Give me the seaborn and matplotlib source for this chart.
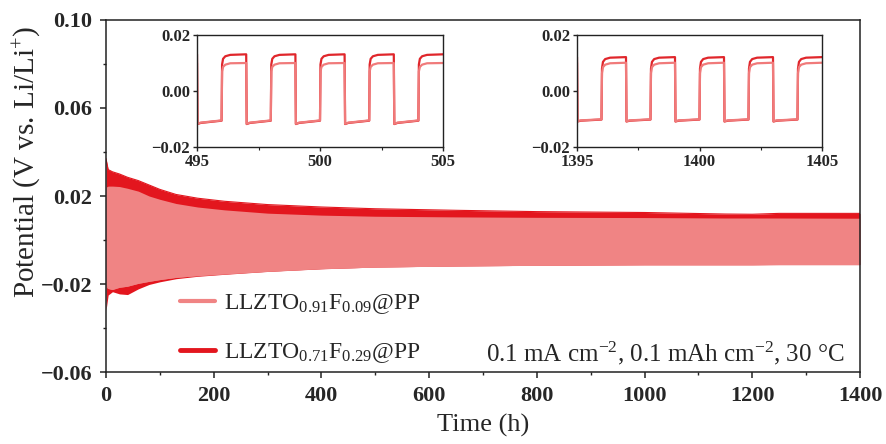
import numpy as np
import pandas as pd
import matplotlib
matplotlib.use("Agg")
import matplotlib.pyplot as plt
import seaborn as sns
from matplotlib.lines import Line2D
from matplotlib.ticker import MultipleLocator, FixedLocator

# ---------------------------------------------------------------------------
# Long-term galvanostatic cycling: upper / lower potential envelope (V)
# ---------------------------------------------------------------------------
time_h = [0, 4, 12, 25, 40, 60, 80, 100, 130, 170, 220, 300, 400, 500,
          650, 800, 1000, 1150, 1200, 1250, 1400]
hi_071 = [0.037, 0.032, 0.031, 0.030, 0.0285, 0.027, 0.025, 0.023, 0.0207,
          0.0190, 0.0176, 0.0161, 0.0150, 0.0142, 0.0135, 0.0129, 0.0125,
          0.0118, 0.0117, 0.0121, 0.0121]
lo_071 = [-0.032, -0.025, -0.0235, -0.0245, -0.0248, -0.0222, -0.0202,
          -0.0190, -0.0176, -0.0165, -0.0156, -0.0143, -0.0131, -0.0123,
          -0.0118, -0.0115, -0.0112, -0.0112, -0.0112, -0.0111, -0.0111]
hi_091 = [0.024, 0.0245, 0.0245, 0.0243, 0.0235, 0.0222, 0.020, 0.0185,
          0.0166, 0.0150, 0.0137, 0.0122, 0.0113, 0.0108, 0.0105, 0.0103,
          0.0102, 0.0100, 0.0100, 0.0100, 0.0099]
lo_091 = [-0.020, -0.022, -0.0225, -0.0215, -0.0210, -0.0197, -0.0188,
          -0.0180, -0.0170, -0.0162, -0.0154, -0.0142, -0.0130, -0.0123,
          -0.0118, -0.0115, -0.0113, -0.0113, -0.0113, -0.0112, -0.0112]

# ---------------------------------------------------------------------------
# Enlarged windows: polarity switches every hour (charge starts on even hours)
# ---------------------------------------------------------------------------
win1_switch = [494, 495, 496, 497, 498, 499, 500, 501, 502, 503, 504, 505]
win2_switch = [1394, 1395, 1396, 1397, 1398, 1399, 1400, 1401, 1402, 1403,
               1404, 1405]

# time offsets (h) inside a half-cycle where the profile is sampled
pos_dt = [0.02, 0.06, 0.15, 0.35, 1.0]
neg_dt = [0.02, 0.15, 1.0]

win1_pos_071 = [0.0095, 0.0115, 0.0124, 0.0129, 0.0131]
win1_pos_091 = [0.0070, 0.0086, 0.0094, 0.0099, 0.0100]
win1_neg_071 = [-0.0118, -0.0114, -0.0106]
win1_neg_091 = [-0.0117, -0.0113, -0.0105]

win2_pos_071 = [0.0080, 0.0104, 0.0114, 0.0119, 0.0121]
win2_pos_091 = [0.0064, 0.0085, 0.0094, 0.0099, 0.0101]
win2_neg_071 = [-0.0109, -0.0106, -0.0102]
win2_neg_091 = [-0.0108, -0.0105, -0.0101]

label_091 = r"LLZTO$_{0.91}$F$_{0.09}$@PP"
label_071 = r"LLZTO$_{0.71}$F$_{0.29}$@PP"
color_091 = "#F08484"
color_071 = "#E3161E"
line_091 = "#F07A7A"
line_071 = "#E0262B"

condition_text = r"0.1 mA cm$^{-2}$, 0.1 mAh cm$^{-2}$, 30 °C"

# ---------------------------------------------------------------------------
sns.set_theme(style="ticks")
plt.rcParams["font.family"] = ["Liberation Serif", "DejaVu Serif"]
plt.rcParams["mathtext.fontset"] = "custom"
plt.rcParams["mathtext.rm"] = "Liberation Serif"
plt.rcParams["mathtext.it"] = "Liberation Serif:italic"
plt.rcParams["mathtext.bf"] = "Liberation Serif:bold"
plt.rcParams["axes.edgecolor"] = "#222222"
plt.rcParams["axes.linewidth"] = 1.1


def build_wave(switch, pos_vals, neg_vals):
    ts, vs = [], []
    for start in switch[:-1]:
        if int(round(start)) % 2 == 0:
            dts, vals = pos_dt, pos_vals
        else:
            dts, vals = neg_dt, neg_vals
        for dt, v in zip(dts, vals):
            ts.append(start + dt)
            vs.append(v)
    return ts, vs


def window_frame(switch, pos071, neg071, pos091, neg091):
    t1, v1 = build_wave(switch, pos071, neg071)
    t2, v2 = build_wave(switch, pos091, neg091)
    return pd.DataFrame({
        "t": t1 + t2,
        "v": v1 + v2,
        "series": [label_071] * len(t1) + [label_091] * len(t2),
    })


def minus_fmt(v, p):
    return ("\u2212" if v < -1e-9 else "") + f"{abs(v):.2f}"


fig = plt.figure(figsize=(8.86, 4.44), dpi=100)
ax = fig.add_axes([106 / 886, 1 - 372 / 444, 754 / 886, 352 / 444])

env = pd.DataFrame({"t": time_h, "hi071": hi_071, "lo071": lo_071,
                    "hi091": hi_091, "lo091": lo_091})

ax.fill_between(env["t"], env["lo071"], env["hi071"], color=color_071,
                linewidth=0)
ax.fill_between(env["t"], env["lo091"], env["hi091"], color=color_091,
                linewidth=0)
sns.lineplot(data=env, x="t", y="hi071", color=color_071, lw=0.8, ax=ax)
sns.lineplot(data=env, x="t", y="lo091", color=color_091, lw=0.8, ax=ax)

ax.set_xlim(0, 1400)
ax.set_ylim(-0.06, 0.10)
ax.xaxis.set_major_locator(MultipleLocator(200))
ax.xaxis.set_minor_locator(MultipleLocator(100))
ax.yaxis.set_major_locator(FixedLocator([-0.06, -0.02, 0.02, 0.06, 0.10]))
ax.yaxis.set_minor_locator(FixedLocator([-0.04, 0.0, 0.04, 0.08]))
ax.yaxis.set_major_formatter(plt.FuncFormatter(minus_fmt))
ax.tick_params(which="major", direction="out", length=4, width=1.1,
               labelsize=16, pad=6, color="#222222")
ax.tick_params(which="minor", direction="out", length=2.5, width=1.0,
               color="#222222")
for lab in ax.get_xticklabels() + ax.get_yticklabels():
    lab.set_fontweight("bold")

ax.set_xlabel("Time (h)", fontsize=19)
ax.set_ylabel(r"Potential (V vs. Li/Li$^{+}$)", fontsize=21)
ax.xaxis.set_label_coords(0.5, -0.12)
ax.yaxis.set_label_coords(-0.083, 0.596)

handles = [Line2D([], [], color=color_091, lw=3),
           Line2D([], [], color=color_071, lw=3.5)]
ax.legend(handles, [label_091, label_071], loc="lower left",
          bbox_to_anchor=(0.07, -0.04), frameon=False, fontsize=17,
          handlelength=1.5, handletextpad=0.35, labelspacing=1.05)

ax.text(0.979, 0.054, condition_text, transform=ax.transAxes,
        ha="right", va="center", fontsize=18)

# ---------------------------------------------------------------------------
# Insets
# ---------------------------------------------------------------------------
insets = [
    ([197 / 886, 1 - 147 / 444, 246 / 886, 112 / 444], (495, 505),
     window_frame(win1_switch, win1_pos_071, win1_neg_071,
                  win1_pos_091, win1_neg_091)),
    ([577 / 886, 1 - 147 / 444, 245 / 886, 112 / 444], (1395, 1405),
     window_frame(win2_switch, win2_pos_071, win2_neg_071,
                  win2_pos_091, win2_neg_091)),
]

for rect, (x0, x1), df in insets:
    axi = fig.add_axes(rect)
    sns.lineplot(data=df, x="t", y="v", hue="series",
                 hue_order=[label_071, label_091],
                 palette={label_071: line_071, label_091: line_091},
                 sort=False, estimator=None, lw=1.6, legend=False, ax=axi)
    axi.set_xlim(x0, x1)
    axi.set_ylim(-0.02, 0.02)
    axi.set_xticks([x0, (x0 + x1) / 2, x1])
    axi.xaxis.set_minor_locator(MultipleLocator(2.5))
    axi.set_yticks([-0.02, 0.0, 0.02])
    axi.yaxis.set_major_formatter(plt.FuncFormatter(minus_fmt))
    axi.xaxis.set_major_formatter(plt.FuncFormatter(lambda v, p: f"{v:.0f}"))
    axi.tick_params(which="major", direction="out", length=3, width=1.0,
                    labelsize=12, pad=2, color="#222222")
    axi.tick_params(which="minor", direction="out", length=2, width=0.8,
                    color="#222222")
    for lab in axi.get_xticklabels() + axi.get_yticklabels():
        lab.set_fontweight("bold")
    axi.set_xlabel("")
    axi.set_ylabel("")
    for s in axi.spines.values():
        s.set_linewidth(1.0)

fig.savefig("out.png", dpi=100)
